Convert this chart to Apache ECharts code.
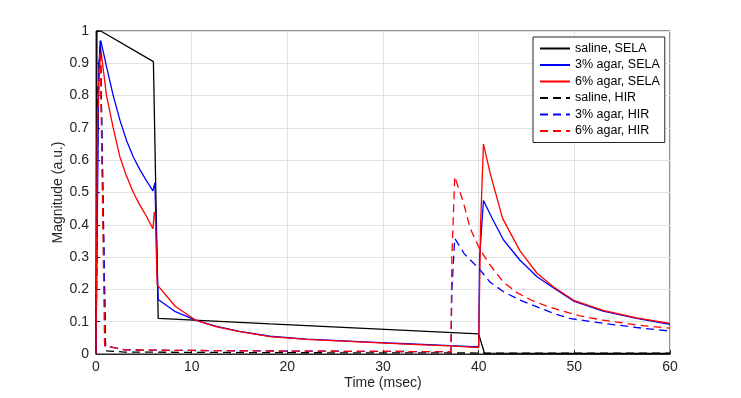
<!DOCTYPE html>
<html>

<head>
	<meta charset="UTF-8">
	<title>Magnitude vs Time</title>
	<script type="text/javascript" src="https://cdn.jsdelivr.net/npm/echarts@6/dist/echarts.min.js"></script>
	<style type="text/css">
		html,
		body {
			margin: 0;
			padding: 0;
			background: #FFFFFF;
		}

		#graph {
			width: 741px;
			height: 398px;
		}
	</style>
</head>

<body>
	<div id="graph"></div>
	<script>
		// [time (msec), magnitude (a.u.)]
		var salineSela = [[0, 0], [0.1, 1.0], [0.5, 1.0], [6.0, 0.905], [6.5, 0.11], [18.2, 0.093], [40.0, 0.062],
			[40.6, 0.003], [50, 0.002], [60, 0.002]];
		var agar3Sela = [[0, 0], [0.3, 0.9], [0.5, 0.97], [1.1, 0.89], [1.8, 0.8], [2.5, 0.724], [3.2, 0.66],
			[3.9, 0.61], [4.6, 0.57], [5.3, 0.535], [5.95, 0.505], [6.15, 0.53], [6.5, 0.169], [8.3, 0.131],
			[10.4, 0.105], [12.5, 0.086], [15, 0.07], [18.2, 0.055], [22, 0.046], [28.6, 0.037], [33, 0.031],
			[37, 0.026], [40, 0.022], [40.1, 0.3], [40.5, 0.475], [41.5, 0.415], [42.6, 0.353], [44.3, 0.291],
			[46.1, 0.239], [47.8, 0.205], [50, 0.163], [53, 0.133], [56.5, 0.11], [60, 0.092]];
		var agar6Sela = [[0, 0], [0.05, 0.3], [0.15, 0.75], [0.45, 0.955], [1.1, 0.8], [1.8, 0.7], [2.5, 0.61],
			[3.2, 0.55], [3.9, 0.5], [4.6, 0.46], [5.3, 0.425], [5.95, 0.388], [6.1, 0.44], [6.2, 0.43],
			[6.4, 0.214], [8.3, 0.147], [10.4, 0.105], [12.5, 0.085], [15, 0.069], [18.2, 0.054], [22, 0.045],
			[28.6, 0.036], [33, 0.03], [37, 0.025], [40, 0.02], [40.2, 0.4], [40.5, 0.65], [41.2, 0.56],
			[42.5, 0.42], [44.3, 0.32], [46.1, 0.25], [47.8, 0.208], [50, 0.165], [53, 0.135], [56.5, 0.112],
			[60, 0.095]];
		var salineHir = [[0, 0], [0.2, 0.8], [0.45, 0.97], [1.0, 0.01], [3, 0.006], [20, 0.004], [40, 0.003],
			[60, 0.003]];
		var agar3Hir = [[0, 0], [0.2, 0.8], [0.45, 0.97], [1.0, 0.023], [1.5, 0.022], [3, 0.013], [5, 0.012],
			[10, 0.011], [20, 0.009], [30, 0.008], [37.1, 0.007], [37.2, 0.2], [37.5, 0.358], [38.5, 0.31],
			[40.1, 0.262], [41.2, 0.222], [42.6, 0.193], [44.3, 0.167], [46.1, 0.146], [47.8, 0.126],
			[49.5, 0.11], [53, 0.095], [56.5, 0.082], [60, 0.071]];
		var agar6Hir = [[0, 0], [0.15, 0.7], [0.45, 0.93], [0.9, 0.025], [1.5, 0.022], [3, 0.013], [5, 0.012],
			[10, 0.011], [20, 0.009], [30, 0.008], [37.1, 0.007], [37.2, 0.3], [37.5, 0.549], [38.4, 0.47],
			[39.1, 0.39], [40.1, 0.325], [41.2, 0.275], [42.6, 0.222], [44, 0.19], [45.4, 0.168],
			[47.2, 0.147], [48.9, 0.132], [50.6, 0.118], [53, 0.105], [56.5, 0.09], [60, 0.08]];

		var seriesNames = ['saline, SELA', '3% agar, SELA', '6% agar, SELA', 'saline, HIR', '3% agar, HIR', '6% agar, HIR'];
		var seriesData = [salineSela, agar3Sela, agar6Sela, salineHir, agar3Hir, agar6Hir];
		var seriesColors = ['#000000', '#0000FF', '#FF0000', '#000000', '#0000FF', '#FF0000'];

		var font = '"Liberation Sans", Arial, Helvetica, sans-serif';

		var series = [];
		for (var i = 0; i < seriesNames.length; i++) {
			series.push({
				name: seriesNames[i],
				type: 'line',
				data: seriesData[i],
				symbol: 'none',
				animation: false,
				lineStyle: {
					color: seriesColors[i],
					width: 1.3,
					type: i < 3 ? 'solid' : [8, 5]
				},
				itemStyle: { color: seriesColors[i] }
			});
		}

		var chart = echarts.init(document.getElementById('graph'), null, { renderer: 'canvas' });
		chart.setOption({
			backgroundColor: '#FFFFFF',
			animation: false,
			grid: {
				left: 96, right: 71, top: 31, bottom: 44,
				show: true, borderColor: '#262626', borderWidth: 1, backgroundColor: '#FFFFFF'
			},
			legend: {
				orient: 'vertical',
				left: 533,
				top: 37,
				padding: [5, 5, 5, 6],
				itemWidth: 30,
				itemHeight: 12,
				itemGap: 3.5,
				itemStyle: { opacity: 0 },
				backgroundColor: '#FFFFFF',
				borderColor: '#262626',
				borderWidth: 1,
				borderRadius: 0,
				textStyle: { fontFamily: font, fontSize: 12.5, color: '#000000' },
				data: seriesNames
			},
			xAxis: {
				type: 'value',
				min: 0, max: 60, interval: 10,
				name: 'Time (msec)',
				nameLocation: 'middle',
				nameGap: 22,
				nameMoveOverlap: false,
				nameTextStyle: { fontFamily: font, fontSize: 14, color: '#262626' },
				axisLine: { lineStyle: { color: '#262626', width: 1 } },
				axisTick: { inside: true, length: 4, lineStyle: { color: '#262626' } },
				axisLabel: { fontFamily: font, fontSize: 14, color: '#262626', margin: 6 },
				splitLine: { show: true, lineStyle: { color: '#E2E2E2', width: 1 } }
			},
			yAxis: {
				type: 'value',
				min: 0, max: 1, interval: 0.1,
				name: 'Magnitude (a.u.)',
				nameLocation: 'middle',
				nameGap: 31,
				nameMoveOverlap: false,
				nameTextStyle: { fontFamily: font, fontSize: 14, color: '#262626' },
				axisLine: { show: true, lineStyle: { color: '#262626', width: 1 } },
				axisTick: { show: true, inside: true, length: 4, lineStyle: { color: '#262626' } },
				axisLabel: { fontFamily: font, fontSize: 14, color: '#262626', margin: 7 },
				splitLine: { show: true, lineStyle: { color: '#E2E2E2', width: 1 } }
			},
			series: series
		});
	</script>
</body>

</html>
